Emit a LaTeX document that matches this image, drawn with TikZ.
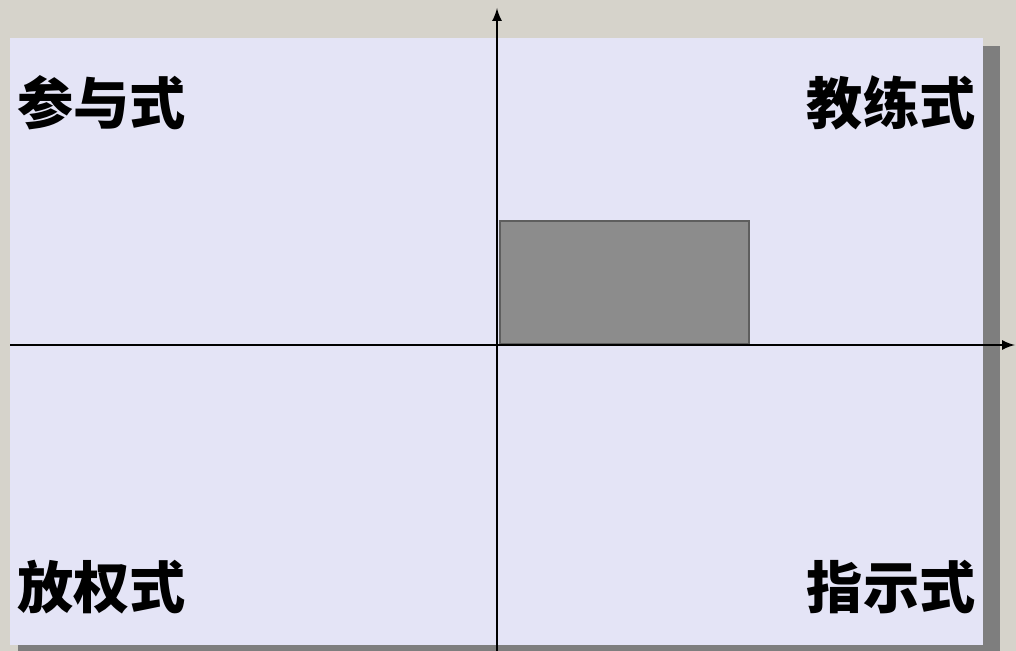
\documentclass[tikz,border=0pt]{standalone}
\usepackage{fontspec}
\newfontfamily\cjk{Noto Sans CJK SC}
\usetikzlibrary{arrows, positioning}

\definecolor{bgtan}{HTML}{D6D3CB}
\definecolor{panelblue}{HTML}{E4E4F6}
\definecolor{shadowgray}{HTML}{7E7E7E}
\definecolor{boxgray}{HTML}{8C8C8C}
\definecolor{boxedge}{HTML}{5E5E5E}

\begin{document}
\begin{tikzpicture}[
    x=0.02cm, y=-0.02cm,
    quadrant/.style={font=\cjk\bfseries\fontsize{32}{36}\selectfont, inner sep=0pt},
    axis/.style={line width=1.5pt, ->, >=latex}
]

\fill[bgtan] (0,0) rectangle (1016,651);
\useasboundingbox (0,0) rectangle (1016,651);
\fill[shadowgray] (18,46) rectangle (1000,651);
\fill[panelblue] (10,38) rectangle (983,645);

\node (zone) [draw=boxedge, line width=1.2pt, fill=boxgray, anchor=south west,
    minimum width=4.98cm, minimum height=2.46cm] at (499,345) {};

\coordinate (west) at (10,345);
\coordinate (east) at (1015,345);
\coordinate (south) at (497,651);
\coordinate (north) at (497,8);
\draw[axis] (west) -- (east);
\draw[axis] (south) -- (north);

\node (participating) [quadrant, anchor=west] at (17,103) {参与式};
\node (coaching) [quadrant, anchor=east] at (976,103) {教练式};
\node (delegating) [quadrant, anchor=west] at (17,587) {放权式};
\node (directing) [quadrant, anchor=east] at (976,587) {指示式};

\end{tikzpicture}
\end{document}
